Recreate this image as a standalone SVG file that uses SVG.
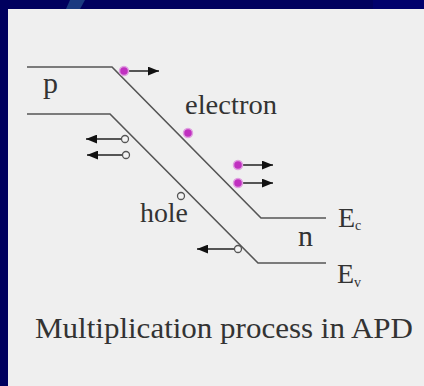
<svg xmlns="http://www.w3.org/2000/svg" width="424" height="386" viewBox="0 0 424 386">
<defs>
<marker id="ah" viewBox="0 0 10 8" refX="10" refY="4" markerWidth="11" markerHeight="9" markerUnits="userSpaceOnUse" orient="auto">
<path d="M0,0 L10,4 L0,8 Z" fill="#111"/>
</marker>
</defs>
<style>
.band{fill:none;stroke:#555;stroke-width:1.6}
.arr{stroke:#222;stroke-width:1.5;marker-end:url(#ah)}
.el{fill:#c030c0;stroke:#e0a0e0;stroke-width:1.5}
.ho{fill:#f4f4f4;stroke:#555;stroke-width:1.3}
.t{font-family:'Liberation Serif','Times New Roman',Tinos,'DejaVu Serif','Noto Serif',Times,serif;fill:#333}
</style>
<rect x="0" y="0" width="424" height="386" fill="#00005e"/>
<rect x="373" y="0" width="51" height="9" fill="#00006c"/>
<polygon points="70,0 85,0 80,9 66,9" fill="#1a3a80"/>
<rect x="8" y="9" width="416" height="377" fill="#efefef"/>
<g id="connectors">
<polyline id="Ec" class="band" points="27,67 112,67 261,218 326,218"/>
<polyline id="Ev" class="band" points="27,114 110,114 258,263 326,263"/>
<line class="arr" x1="128" y1="71" x2="159" y2="71"/>
<line class="arr" x1="242" y1="165" x2="273" y2="165"/>
<line class="arr" x1="242" y1="183" x2="273" y2="183"/>
<line class="arr" x1="121" y1="139" x2="86" y2="139"/>
<line class="arr" x1="122" y1="155" x2="87" y2="155"/>
<line class="arr" x1="234" y1="249" x2="197" y2="249"/>
</g>
<g id="electrons">
<circle class="el" cx="124" cy="71" r="4.5"/>
<circle class="el" cx="188" cy="133" r="4.5"/>
<circle class="el" cx="238" cy="165" r="4.5"/>
<circle class="el" cx="238" cy="183" r="4.5"/>
</g>
<g id="holes">
<circle class="ho" cx="125" cy="139" r="3.5"/>
<circle class="ho" cx="126" cy="155" r="3.5"/>
<circle class="ho" cx="181" cy="196" r="3.5"/>
<circle class="ho" cx="238" cy="249" r="3.5"/>
</g>
<g id="labels">
<text class="t" x="43" y="93" font-size="30">p</text>
<text class="t" x="185" y="114" font-size="28" textLength="92" lengthAdjust="spacingAndGlyphs">electron</text>
<text class="t" x="140" y="222" font-size="28" textLength="48" lengthAdjust="spacingAndGlyphs">hole</text>
<text class="t" x="298" y="246" font-size="30">n</text>
<text class="t" x="338" y="227" font-size="28">E<tspan font-size="14" dy="3">c</tspan></text>
<text class="t" x="337" y="283" font-size="28">E<tspan font-size="14" dy="4">v</tspan></text>
<text class="t" x="35" y="338" font-size="30" textLength="378" lengthAdjust="spacingAndGlyphs">Multiplication process in APD</text>
</g>
</svg>
